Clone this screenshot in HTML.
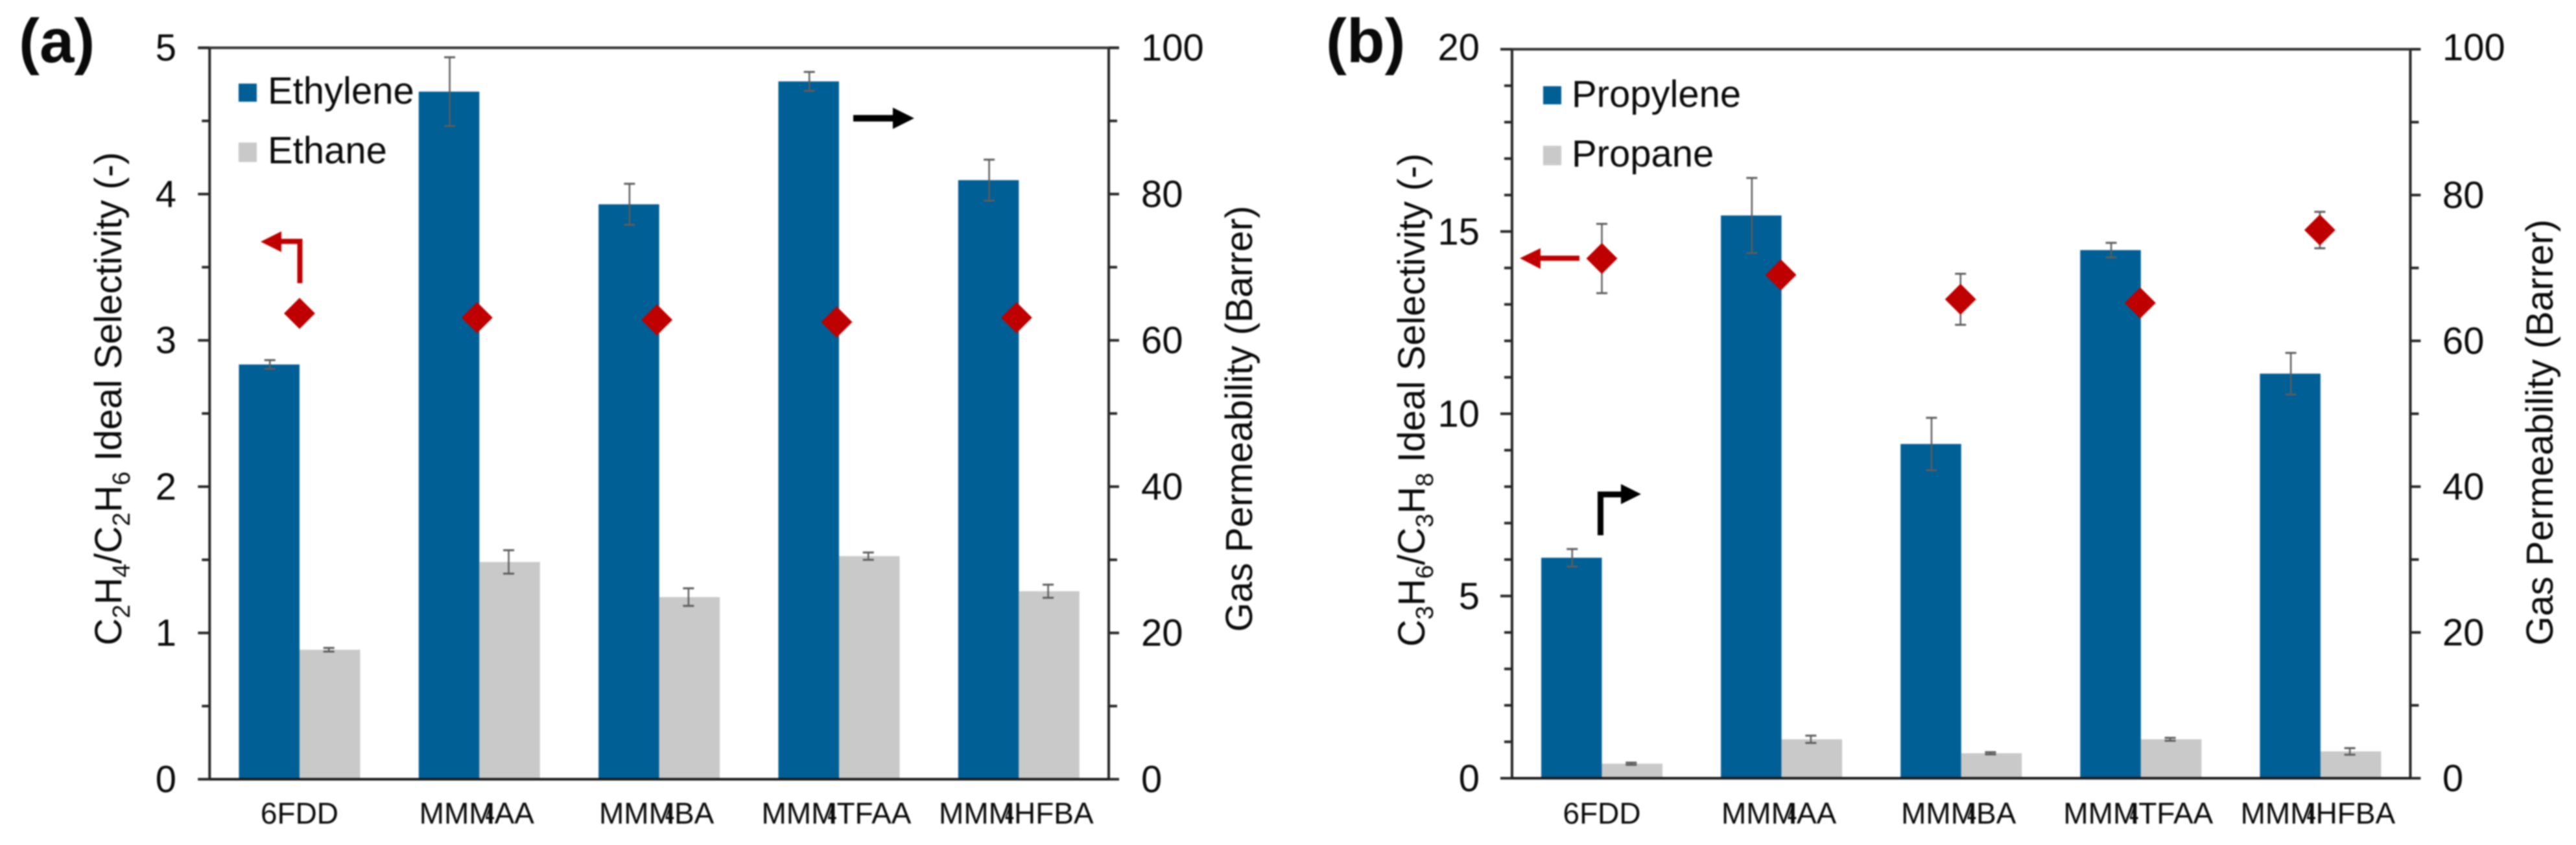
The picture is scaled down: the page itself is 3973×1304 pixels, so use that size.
<!DOCTYPE html>
<html>
<head>
<meta charset="utf-8">
<title>Gas permeability and ideal selectivity</title>
<style>
html,body{margin:0;padding:0;background:#fff;}
svg{display:block;filter:blur(1px);}
text{font-family:"Liberation Sans",Arial,sans-serif;fill:#0a0a0a;}
</style>
</head>
<body>
<svg id="figure" xmlns="http://www.w3.org/2000/svg" width="3973" height="1304" viewBox="0 0 3973 1304">
<rect x="0" y="0" width="3973" height="1304" fill="#ffffff"/>
<g id="panel-a"></g>
<g id="panel-b"></g>

<text x="29" y="96" font-size="96" font-weight="bold">(a)</text>
<text x="2045" y="96" font-size="96" font-weight="bold">(b)</text>

<text transform="translate(187,996) rotate(-90)" font-size="58">C<tspan font-size="38" dy="13">2</tspan><tspan dy="-13">H</tspan><tspan font-size="38" dy="13">4</tspan><tspan dy="-13">/C</tspan><tspan font-size="38" dy="13">2</tspan><tspan dy="-13">H</tspan><tspan font-size="38" dy="13">6</tspan><tspan dy="-13"> Ideal Selectivity (-)</tspan></text>
<text transform="translate(1931,975) rotate(-90)" font-size="58">Gas Permeability (Barrer)</text>
<text transform="translate(2197,998) rotate(-90)" font-size="58">C<tspan font-size="38" dy="13">3</tspan><tspan dy="-13">H</tspan><tspan font-size="38" dy="13">6</tspan><tspan dy="-13">/C</tspan><tspan font-size="38" dy="13">3</tspan><tspan dy="-13">H</tspan><tspan font-size="38" dy="13">8</tspan><tspan dy="-13"> Ideal Selectivity (-)</tspan></text>
<text transform="translate(3937,996) rotate(-90)" font-size="58">Gas Permeability (Barrer)</text>

<g>
  <rect x="368" y="129" width="28" height="28" fill="#005f95"/>
  <text x="413" y="160" font-size="58">Ethylene</text>
  <rect x="368" y="220" width="28" height="30" fill="#c9c9c9"/>
  <text x="413" y="252" font-size="58">Ethane</text>
</g>
<g>
  <rect x="2380" y="133" width="28" height="28" fill="#005f95"/>
  <text x="2424" y="165" font-size="58">Propylene</text>
  <rect x="2380" y="225" width="28" height="30" fill="#c9c9c9"/>
  <text x="2424" y="257" font-size="58">Propane</text>
</g>

<g>
  <path d="M462.5 437 V372.5 H430" fill="none" stroke="#c00000" stroke-width="8"/>
  <path d="M402 373 L434 357 V389 Z" fill="#c00000"/>
</g>
<g>
  <path d="M1316 182.5 H1380" fill="none" stroke="#000000" stroke-width="10"/>
  <path d="M1410 182.5 L1377 166 V199 Z" fill="#000000"/>
</g>
<g>
  <path d="M2372 398.5 H2436" fill="none" stroke="#c00000" stroke-width="8"/>
  <path d="M2344 398.5 L2376 383 V415 Z" fill="#c00000"/>
</g>
<g>
  <path d="M2468.5 826 V763 H2503" fill="none" stroke="#000000" stroke-width="9"/>
  <path d="M2531 762.5 L2500 747 V778 Z" fill="#000000"/>
</g>
</svg>

<script>
const categories = ['6FDD', 'MMM4AA', 'MMM4BA', 'MMM4TFAA', 'MMM4HFBA'];

const ethyleneValues = [56.7, 94.0, 78.6, 95.4, 81.9];
const ethyleneErrors = [0.6, 4.7, 2.8, 1.3, 2.8];
const ethaneValues = [17.7, 29.7, 24.9, 30.5, 25.7];
const ethaneErrors = [0.25, 1.6, 1.2, 0.5, 0.9];
const c2Selectivity = [3.184, 3.155, 3.14, 3.125, 3.155];
const c2SelectivityErrors = [0, 0, 0, 0, 0];

const propyleneValues = [30.25, 77.2, 45.85, 72.45, 55.5];
const propyleneErrors = [1.2, 5.15, 3.6, 1.0, 2.85];
const propaneValues = [2.0, 5.35, 3.43, 5.35, 3.68];
const propaneErrors = [0.15, 0.5, 0.15, 0.2, 0.45];
const c3Selectivity = [14.26, 13.81, 13.14, 13.04, 15.04];
const c3SelectivityErrors = [0.95, 0, 0.7, 0, 0.5];

const c2LeftTicks = ['0', '1', '2', '3', '4', '5'];
const c3LeftTicks = ['0', '5', '10', '15', '20'];
const rightTicks = ['0', '20', '40', '60', '80', '100'];

const SVGNS = 'http://www.w3.org/2000/svg';

function mk(tag, attrs, parent) {
  const el = document.createElementNS(SVGNS, tag);
  for (const k in attrs) el.setAttribute(k, attrs[k]);
  parent.appendChild(el);
  return el;
}

function errorBar(parent, x, yHi, yLo, name) {
  const g = mk('g', { stroke: '#5c5c5c', fill: 'none' }, parent);
  
  
  mk('line', { x1: x, x2: x, y1: yHi, y2: yLo, 'stroke-width': 2.5 }, g);
  mk('line', { x1: x - 8.5, x2: x + 8.5, y1: yHi, y2: yHi, 'stroke-width': 3 }, g);
  mk('line', { x1: x - 8.5, x2: x + 8.5, y1: yLo, y2: yLo, 'stroke-width': 3 }, g);
}

function drawPanel(root, cfg) {
  const band = (cfg.right - cfg.left) / categories.length;
  const barWidth = 93.5;
  const xCenter = i => cfg.left + (i + 0.5) * band;
  const yRight = v => cfg.bottom - (v / 100) * (cfg.bottom - cfg.top);
  const yLeft = v => cfg.bottom - (v / cfg.leftMax) * (cfg.bottom - cfg.top);

  categories.forEach((cat, i) => {
    const cx = xCenter(i);
    const hi = mk('rect', { x: cx - barWidth, y: yRight(cfg.olefin[i]), width: barWidth, height: cfg.bottom - yRight(cfg.olefin[i]), fill: '#005f95' }, root);
    
    
    const lo = mk('rect', { x: cx, y: yRight(cfg.paraffin[i]), width: barWidth, height: cfg.bottom - yRight(cfg.paraffin[i]), fill: '#c9c9c9' }, root);
    
    
  });

  categories.forEach((cat, i) => {
    const cx = xCenter(i);
    const xa = cx - barWidth / 2 + 1;
    errorBar(root, xa, yRight(cfg.olefin[i] + cfg.olefinErr[i]), yRight(cfg.olefin[i] - cfg.olefinErr[i]), 'error-bar-' + cfg.olefinName + '-' + cat.toLowerCase());
    const xb = cx + barWidth / 2 - 1.5;
    errorBar(root, xb, yRight(cfg.paraffin[i] + cfg.paraffinErr[i]), yRight(cfg.paraffin[i] - cfg.paraffinErr[i]), 'error-bar-' + cfg.paraffinName + '-' + cat.toLowerCase());
  });

  categories.forEach((cat, i) => {
    const dx = xCenter(i) + (i > 0 ? cfg.markerShift : 0);
    const dy = yLeft(cfg.selectivity[i]);
    if (cfg.selectivityErr[i] > 0) {
      errorBar(root, dx, yLeft(cfg.selectivity[i] + cfg.selectivityErr[i]), yLeft(cfg.selectivity[i] - cfg.selectivityErr[i]), 'error-bar-selectivity-' + cat.toLowerCase());
    }
    const r = 24;
    const d = mk('polygon', { points: [dx, dy - r, dx + r, dy, dx, dy + r, dx - r, dy].join(' '), fill: '#bf0000' }, root);
    
    

    const t = mk('text', { x: xCenter(i) - (i > 0 ? 4 : 0), y: 1271, 'font-size': 46, 'text-anchor': 'middle' }, root);
    
    
    const split = cat.indexOf('4');
    if (split > 0) {
      mk('tspan', {}, t).textContent = cat.slice(0, split);
      mk('tspan', { dx: -13, textLength: 14, lengthAdjust: 'spacingAndGlyphs' }, t).textContent = '4';
      mk('tspan', {}, t).textContent = cat.slice(split + 1);
    } else {
      t.textContent = cat;
    }
  });

  const axis = mk('g', { stroke: '#262626', 'stroke-width': 4, fill: 'none' }, root);
  
  
  mk('line', { x1: cfg.left, x2: cfg.left, y1: cfg.top, y2: cfg.bottom }, axis);
  mk('line', { x1: cfg.right, x2: cfg.right, y1: cfg.top, y2: cfg.bottom }, axis);
  mk('line', { x1: cfg.left - 18, x2: cfg.right + 16, y1: cfg.top, y2: cfg.top, stroke: '#333333' }, axis);
  mk('line', { x1: cfg.left - 18, x2: cfg.right + 16, y1: cfg.bottom, y2: cfg.bottom, stroke: '#1a1a1a' }, axis);

  const leftStep = cfg.leftMax / (cfg.leftTicks.length - 1);
  cfg.leftTicks.forEach(label => {
    const v = parseFloat(label);
    const y = yLeft(v);
    mk('line', { x1: cfg.left - 18, x2: cfg.left, y1: y, y2: y }, axis);
    const t = mk('text', { x: cfg.leftLabelX, y: y + (v === cfg.leftMax ? cfg.topLabelDrop : 20), 'font-size': 58, 'text-anchor': 'end' }, root);
    
    
    t.textContent = label;
    for (let m = 1; m < cfg.leftMinorPerMajor && v < cfg.leftMax; m++) {
      const ym = yLeft(v + (leftStep * m) / cfg.leftMinorPerMajor);
      mk('line', { x1: cfg.left - 12, x2: cfg.left, y1: ym, y2: ym }, axis);
    }
  });

  rightTicks.forEach(label => {
    const v = parseFloat(label);
    const y = yRight(v);
    mk('line', { x1: cfg.right, x2: cfg.right + 16, y1: y, y2: y }, axis);
    const t = mk('text', { x: cfg.rightLabelX, y: y + (v === 100 ? cfg.topLabelDrop : 20), 'font-size': 58 }, root);
    
    
    t.textContent = label;
    if (v < 100) {
      const ym = yRight(v + 10);
      mk('line', { x1: cfg.right, x2: cfg.right + 13, y1: ym, y2: ym }, axis);
    }
  });
}

drawPanel(document.getElementById('panel-a'), {
  left: 323.3, right: 1710, top: 73.7, bottom: 1202.5,
  leftMax: 5, leftTicks: c2LeftTicks, leftMinorPerMajor: 2, leftLabelX: 272, rightLabelX: 1760,
  markerShift: -3.5, topLabelDrop: 20,
  olefin: ethyleneValues, olefinErr: ethyleneErrors, olefinName: 'ethylene',
  paraffin: ethaneValues, paraffinErr: ethaneErrors, paraffinName: 'ethane',
  selectivity: c2Selectivity, selectivityErr: c2SelectivityErrors
});

drawPanel(document.getElementById('panel-b'), {
  left: 2332, right: 3717.5, top: 76, bottom: 1201,
  leftMax: 20, leftTicks: c3LeftTicks, leftMinorPerMajor: 5, leftLabelX: 2282, rightLabelX: 3767,
  markerShift: -1, topLabelDrop: 17,
  olefin: propyleneValues, olefinErr: propyleneErrors, olefinName: 'propylene',
  paraffin: propaneValues, paraffinErr: propaneErrors, paraffinName: 'propane',
  selectivity: c3Selectivity, selectivityErr: c3SelectivityErrors
});
</script>
</body>
</html>
